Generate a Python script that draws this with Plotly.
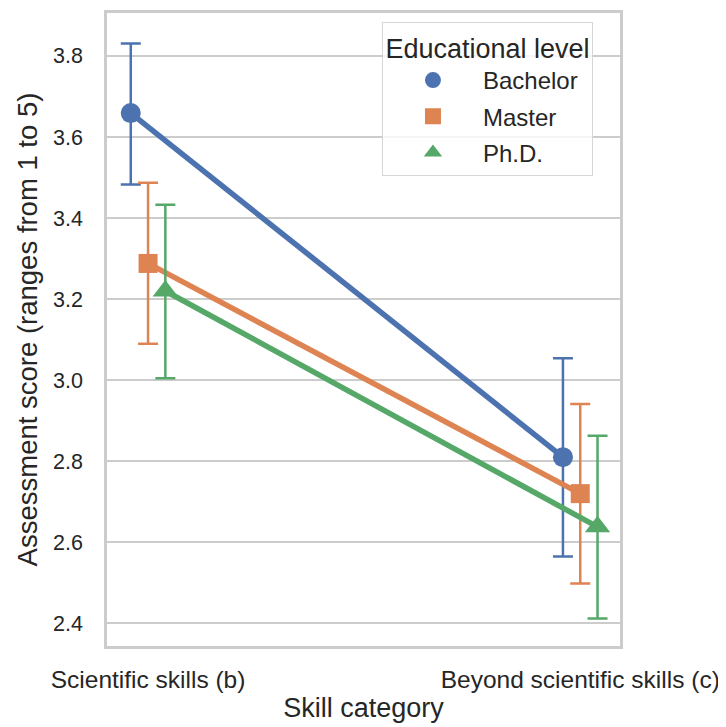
import plotly.graph_objects as go

categories = ["Scientific skills (b)", "Beyond scientific skills (c)"]
levels = ["Bachelor", "Master", "Ph.D."]
means = {
    "Bachelor": [3.659, 2.810],
    "Master": [3.288, 2.720],
    "Ph.D.": [3.220, 2.638],
}
ci_low = {
    "Bachelor": [3.483, 2.565],
    "Master": [3.090, 2.498],
    "Ph.D.": [3.005, 2.412],
}
ci_high = {
    "Bachelor": [3.831, 3.054],
    "Master": [3.487, 2.941],
    "Ph.D.": [3.433, 2.863],
}
y_ticks = [2.4, 2.6, 2.8, 3.0, 3.2, 3.4, 3.6, 3.8]

colors = {"Bachelor": "#4C72B0", "Master": "#DD8452", "Ph.D.": "#55A868"}
symbols = {"Bachelor": "circle", "Master": "square", "Ph.D.": "triangle-up"}
msizes = {"Bachelor": 20, "Master": 19, "Ph.D.": 22}
dodge = 0.04
FONT = "Liberation Sans, Arial, sans-serif"
TXT = "#262626"

fig = go.Figure()
n = len(levels)
for i, lv in enumerate(levels):
    off = (i - (n - 1) / 2) * dodge
    xs = [k + off for k in range(len(categories))]
    ys = means[lv]
    plus = [h - m for h, m in zip(ci_high[lv], ys)]
    minus = [m - l for m, l in zip(ys, ci_low[lv])]
    fig.add_trace(go.Scatter(
        x=xs, y=ys, mode="lines+markers", showlegend=False,
        line=dict(color=colors[lv], width=5.5),
        marker=dict(symbol=symbols[lv], size=msizes[lv], color=colors[lv]),
        error_y=dict(type="data", array=plus, arrayminus=minus, visible=True,
                     color=colors[lv], thickness=2.5, width=10),
    ))
for i, lv in enumerate(levels):
    fig.add_trace(go.Scatter(
        x=[None], y=[None], mode="markers", name=lv, legendgroup=lv,
        marker=dict(symbol=symbols[lv], size=msizes[lv], color=colors[lv]),
    ))

fig.update_layout(
    width=726, height=727,
    margin=dict(l=99, r=114, t=2, b=89),
    plot_bgcolor="white", paper_bgcolor="white",
    font=dict(family=FONT, color=TXT),
    showlegend=True,
    legend=dict(
        x=0.536, y=0.986, xanchor="left", yanchor="top",
        bgcolor="rgba(255,255,255,0.8)", bordercolor="#d6d6d6", borderwidth=1,
        font=dict(size=24, family=FONT, color=TXT),
        title=dict(text="Educational level", side="top center",
                   font=dict(size=27, family=FONT, color=TXT)),
        tracegroupgap=2, itemsizing="trace", itemwidth=90,
    ),
    xaxis=dict(
        range=[-0.095, 1.092], tickvals=list(range(len(categories))), ticktext=categories,
        showgrid=False, zeroline=False,
        showline=True, mirror=True, linecolor="#cccccc", linewidth=2.5,
        tickfont=dict(size=24.5, family=FONT, color=TXT), ticklabelstandoff=10,
        title=dict(text="Skill category", font=dict(size=27, family=FONT, color=TXT), standoff=4),
    ),
    yaxis=dict(
        range=[2.344, 3.906], tickvals=y_ticks, ticktext=[f"{v:.1f}" for v in y_ticks],
        showgrid=True, gridcolor="#cccccc", gridwidth=1.8, zeroline=False,
        showline=True, mirror=True, linecolor="#cccccc", linewidth=2.5,
        tickfont=dict(size=21.5, family=FONT, color=TXT), ticklabelstandoff=17,
        title=dict(text="Assessment score (ranges from 1 to 5)",
                   font=dict(size=27.5, family=FONT, color=TXT), standoff=8),
    ),
)

fig.write_html("out.html")
